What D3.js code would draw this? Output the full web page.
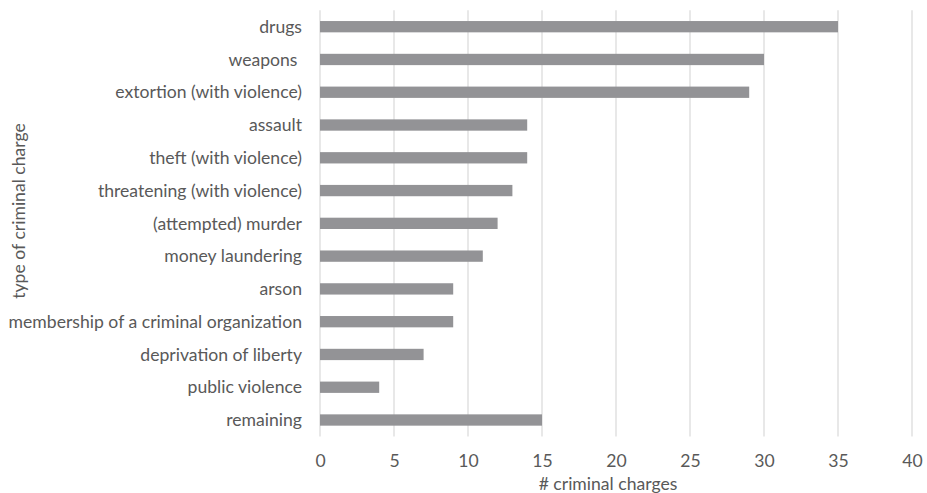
<!DOCTYPE html>
<html><head><meta charset="utf-8">
<script src="https://cdn.jsdelivr.net/npm/d3@7"></script>
<style>
html,body{margin:0;padding:0;background:#fff;}
svg text{font-family:"Lato","Open Sans",sans-serif;fill:#595959;}
</style></head>
<body><svg id="c" width="927" height="493"></svg>
<script>
const categories = ["drugs","weapons ","extortion (with violence)","assault","theft (with violence)","threatening (with violence)","(attempted) murder","money laundering","arson","membership of a criminal organization","deprivation of liberty","public violence","remaining"];
const values = [35,30,29,14,14,13,12,11,9,9,7,4,15];
const xTicks = [0,5,10,15,20,25,30,35,40];
const xTitle = "# criminal charges";
const yTitle = "type of criminal charge";

const svg = d3.select("#c");
const m = {left:320, right:15, top:10.3, bottom:56.6};
const W = 927, H = 493;
const FS = "17.6px";
const x = d3.scaleLinear().domain([0,40]).range([m.left, W-m.right]);
const y = d3.scaleBand().domain(categories).range([m.top, H-m.bottom]).paddingInner(0.655).paddingOuter(0.3275);

// gridlines
svg.append("g").selectAll("line").data(xTicks).join("line")
  .attr("x1",d=>x(d)).attr("x2",d=>x(d))
  .attr("y1",m.top).attr("y2",H-m.bottom)
  .attr("stroke","#d9d9d9").attr("stroke-width",1.2);

// bars
svg.append("g").selectAll("rect").data(categories).join("rect")
  .attr("x",x(0)).attr("y",d=>y(d))
  .attr("width",(d,i)=>x(values[i])-x(0))
  .attr("height",y.bandwidth())
  .attr("fill","#939396");

// category labels
svg.append("g").selectAll("text").data(categories).join("text")
  .attr("x",x(0)-18).attr("y",d=>y(d)+y.bandwidth()/2)
  .attr("dy","0.35em").attr("text-anchor","end")
  .style("font-size",FS).style("white-space","pre")
  .text(d=>d);

// x axis tick labels
const xa = svg.append("g").attr("transform",`translate(0,${H-m.bottom})`)
  .call(d3.axisBottom(x).tickValues(xTicks).tickSize(0));
xa.select(".domain").remove();
xa.selectAll("text").style("font-size",FS).attr("fill",null)
  .attr("dy",null).attr("y",467-(H-m.bottom));

// titles
svg.append("text").attr("x",608).attr("y",490)
  .attr("text-anchor","middle").style("font-size",FS).text(xTitle);
svg.append("text").attr("transform","translate(25,211) rotate(-90)")
  .attr("text-anchor","middle").style("font-size",FS).text(yTitle);
</script></body></html>
